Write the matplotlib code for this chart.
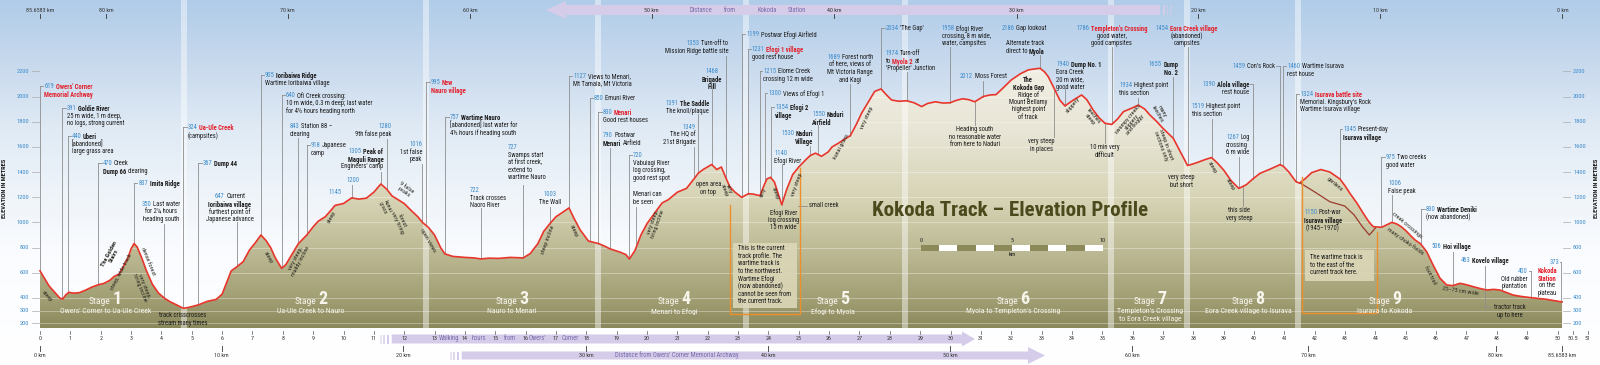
import numpy as np
import matplotlib
matplotlib.use('Agg')
import matplotlib.pyplot as plt
import matplotlib.transforms as mtransforms
from matplotlib.patches import Polygon, Rectangle
from matplotlib.lines import Line2D
from matplotlib import font_manager as fm

# ---------------- data ----------------
hours = [0.0, 0.15, 0.3, 0.5, 0.65, 0.75, 0.85, 0.95, 1.1, 1.3,
         1.5, 1.7, 1.92, 2.1, 2.3, 2.45, 2.6, 2.75, 2.9, 3.0,
         3.1, 3.2, 3.35, 3.5, 3.7, 3.9, 4.1, 4.3, 4.5, 4.72,
         4.9, 5.22, 5.5, 5.8, 6.0, 6.3, 6.5, 6.7, 6.9, 7.1,
         7.28, 7.45, 7.6, 7.75, 7.96, 8.1, 8.3, 8.51, 8.79, 9.0,
         9.17, 9.4, 9.6, 9.72, 10.0, 10.27, 10.5, 10.75, 11.0, 11.23,
         11.42, 11.6, 11.8, 12.0, 12.25, 12.45, 12.6, 12.8, 13.0, 13.2,
         13.34, 13.6, 14.0, 14.3, 14.53, 14.8, 15.1, 15.5, 15.92, 16.15,
         16.4, 16.6, 16.8, 17.0, 17.25, 17.43, 17.6, 17.8, 18.07, 18.4,
         18.6, 18.78, 19.1, 19.3, 19.42, 19.6, 19.8, 20.0, 20.3, 20.5,
         20.7, 21.0, 21.3, 21.56, 21.69, 21.85, 22.13, 22.3, 22.45, 22.6,
         22.73, 22.9, 23.12, 23.34, 23.5, 23.72, 23.85, 23.95, 24.07, 24.2,
         24.44, 24.6, 24.8, 25.0, 25.2, 25.37, 25.55, 25.75, 25.97, 26.1,
         26.3, 26.5, 26.7, 26.9, 27.07, 27.3, 27.5, 27.71, 27.9, 28.06,
         28.3, 28.56, 28.8, 29.05, 29.25, 29.5, 29.75, 29.98, 30.2, 30.4,
         30.6, 30.8, 31.08, 31.3, 31.5, 31.7, 32.0, 32.3, 32.56, 32.8,
         32.95, 33.1, 33.22, 33.44, 33.6, 33.77, 34.05, 34.32, 34.49, 34.7,
         34.9, 35.09, 35.31, 35.5, 35.7, 35.95, 36.19, 36.4, 36.57, 36.8,
         37.0, 37.34, 37.6, 37.81, 38.0, 38.2, 38.4, 38.6, 38.8, 39.0,
         39.25, 39.5, 39.75, 39.96, 40.2, 40.5, 40.86, 40.97, 41.15, 41.38,
         41.5, 41.7, 41.9, 42.2, 42.5, 42.83, 43.0, 43.16, 43.4, 43.6,
         43.8, 43.93, 44.2, 44.35, 44.54, 44.7, 44.85, 45.0, 45.14, 45.3,
         45.49, 45.69, 45.9, 46.13, 46.35, 46.55, 46.79, 47.0, 47.23, 47.45,
         47.67, 47.9, 48.1, 48.3, 48.54, 48.8, 49.13, 49.4, 49.64, 49.9,
         50.15]
elev = [615, 555, 495, 440, 400, 391, 425, 445, 438, 442,
        462, 485, 505, 515, 540, 572, 588, 650, 720, 790,
        832, 805, 720, 620, 510, 440, 398, 368, 345, 318,
        325, 345, 372, 388, 430, 615, 650, 690, 780, 840,
        900, 855, 800, 720, 635, 665, 745, 830, 900, 965,
        1010, 1045, 1100, 1135, 1150, 1195, 1185, 1192, 1240, 1305,
        1265, 1210, 1180, 1150, 1090, 1045, 1000, 960, 900, 800,
        750, 730, 722, 718, 710, 716, 714, 722, 718, 752,
        830, 930, 990, 1045, 1085, 1115, 1030, 940, 852, 832,
        812, 790, 765, 745, 710, 775, 900, 990, 1090, 1155,
        1180, 1240, 1270, 1349, 1391, 1420, 1460, 1420, 1440, 1353,
        1283, 1240, 1199, 1228, 1225, 1212, 1290, 1345, 1358, 1320,
        1140, 1260, 1380, 1440, 1490, 1530, 1550, 1525, 1560, 1600,
        1628, 1660, 1689, 1780, 1867, 1960, 2040, 2060, 2010, 1972,
        1962, 1966, 1950, 1920, 1945, 1958, 1948, 1950, 1970, 1982,
        1975, 1958, 2000, 2012, 2015, 2060, 2131, 2180, 2211, 2220,
        2224, 2195, 2158, 2052, 1972, 1925, 1972, 2012, 1975, 1893,
        1830, 1787, 1778, 1820, 1880, 1905, 1932, 1900, 1853, 1800,
        1747, 1668, 1549, 1452, 1465, 1482, 1500, 1515, 1470, 1416,
        1330, 1270, 1300, 1345, 1390, 1420, 1459, 1445, 1400, 1324,
        1312, 1350, 1395, 1420, 1400, 1345, 1290, 1231, 1150, 1072,
        1000, 966, 961, 978, 1000, 988, 966, 935, 900, 862,
        830, 767, 662, 556, 503, 498, 516, 505, 489, 475,
        463, 468, 463, 445, 423, 412, 402, 395, 389, 378,
        368]

# wartime track near Isurava
alt_hours = [41.52, 42.0, 42.5, 42.99, 43.3, 43.57, 43.8, 44.0]
alt_elev = [1313, 1242, 1164, 1130, 1059, 966, 900, 955]

elev_ticks = [200, 300, 400, 600, 800, 1000, 1200, 1400, 1600, 1800, 2000, 2200]
hour_ticks = list(range(0, 51)) + [50.5, 51]
hour_labels = [str(h) for h in range(0, 51)] + ['50.5', '51']

km_bottom_labels = ['0 km', '10 km', '20 km', '30 km', '40 km', '50 km',
                    '60 km', '70 km', '80 km', '85.6583 km']
km_bottom_hours = [0, 5.99, 11.97, 17.99, 23.99, 29.98, 35.99, 41.79, 47.96, 50.16]
km_top_labels = ['85.6583 km', '80 km', '70 km', '60 km', '50 km', '40 km',
                 '30 km', '20 km', '10 km', '0 km']
km_top_hours = [0, 2.18, 8.16, 14.17, 20.15, 26.17, 32.18, 38.17, 44.15, 50.16]

stage_bounds = [4.73, 12.72, 18.4, 23.26, 28.5, 35.3, 37.8, 41.44]
stage_nums = ['1', '2', '3', '4', '5', '6', '7', '8', '9']
stage_names = ["Owers' Corner to Ua-Ule Creek", "Ua-Ule Creek to Nauro",
               "Nauro to Menari", "Menari to Efogi", "Efogi to Myola",
               "Myola to Templeton's Crossing",
               "Templeton's Crossing\nto Eora Creek village",
               "Eora Creek village to Isurava", "Isurava to Kokoda"]
stage_centres = [2.15, 8.93, 15.55, 20.89, 26.13, 32.06, 36.57, 39.8, 44.32]

# ---------------- layout helpers ----------------
W, H = 1600, 365
X0, SX = 40.0, 30.35
Y0, SY = 348.3, 0.1259


def hx(px):
    return (px - X0) / SX


def ey(py):
    return (Y0 - py) / SY


def pxh(h):
    return X0 + SX * h


def pye(e):
    return Y0 - SY * e


def have(name):
    try:
        fm.findfont(fm.FontProperties(family=name), fallback_to_default=False)
        return True
    except Exception:
        return False


NARROW = next(f for f in ['Liberation Sans Narrow', 'Roboto Condensed', 'Roboto', 'DejaVu Sans'] if have(f))
plt.rcParams['font.family'] = [NARROW, 'DejaVu Sans']

BLUE = '#3d8ccc'
RED = '#e3202b'
INK = '#1c1c1c'
LEAD = '#8e8e8e'
LAV = '#d4cce8'
LAVTXT = '#7a6ead'

fig = plt.figure(figsize=(W / 100, H / 100), dpi=100)
ax = fig.add_axes([0, 0, 1, 1])
ax.axis('off')
PX = mtransforms.Affine2D().scale(1 / W, -1 / H).translate(0, 1) + fig.transFigure
R = fig.canvas.get_renderer()

# sky gradient
sky_stops = [0, 60, 130, 200, 260, 365]
sky_cols = np.array([[0.69, 0.80, 0.91], [0.78, 0.85, 0.93], [0.88, 0.92, 0.96],
                     [0.94, 0.96, 0.98], [0.985, 0.99, 1.0], [1, 1, 1]])
rows = np.arange(H)
sky = np.stack([np.interp(rows, sky_stops, sky_cols[:, k]) for k in range(3)], axis=-1)[:, None, :]
ax.imshow(sky, extent=[hx(0), hx(W), ey(H), ey(0)], origin='upper', aspect='auto', zorder=0)

# ground
BASE = ey(328)
gx = np.concatenate([[hours[0]], hours, [hours[-1]]])
gy = np.concatenate([[BASE], elev, [BASE]])
ground = Polygon(np.column_stack([gx, gy]), closed=True, facecolor='none', edgecolor='none')
ax.add_patch(ground)
g_stops = [60, 130, 200, 260, 300, 328]
g_cols = np.array([[0.95, 0.94, 0.90], [0.91, 0.90, 0.84], [0.84, 0.83, 0.71],
                   [0.72, 0.71, 0.56], [0.63, 0.62, 0.45], [0.54, 0.535, 0.36]])
grows = np.arange(60, 329)
gimg = np.stack([np.interp(grows, g_stops, g_cols[:, k]) for k in range(3)], axis=-1)[:, None, :]
im = ax.imshow(gimg, extent=[hours[0], hours[-1], BASE, ey(60)], origin='upper', aspect='auto', zorder=1)
im.set_clip_path(ground)
for v in elev_ticks:
    ln, = ax.plot([hours[0], hours[-1]], [v, v], color='white', alpha=0.4, lw=0.6, zorder=2)
    ln.set_clip_path(ground)

# stage separator stripes
for b in stage_bounds:
    ax.add_patch(Rectangle((b - 0.1, BASE), 0.2, ey(0) - BASE, facecolor='white', alpha=0.45,
                           edgecolor='none', zorder=3))

# profile
ax.plot(hours, elev, color='#e8362c', lw=1.2, zorder=8, solid_joinstyle='round')
ax.plot(alt_hours, alt_elev, color='#9a3a2c', lw=0.9, zorder=8)
ax.set_xlim(hx(0), hx(W))
ax.set_ylim(ey(H), ey(0))


def prof(h):
    return np.interp(h, hours, elev)


STY = {'n': (BLUE, 'normal'), 'b': (INK, 'bold'), 'r': (RED, 'bold'), 't': (INK, 'normal')}
FS = 4.7
LH = 7.6
GAP = 1.6


def rich(x, y, text, ha='left', fs=FS, lh=LH, color=None):
    for i, line in enumerate(text.split('\n')):
        objs = []
        for tok in line.split('|'):
            st, txt = tok.split(':', 1)
            c, wgt = STY[st]
            objs.append(fig.text(0, 0, txt, transform=PX, fontsize=fs, color=color or c,
                                 fontweight=wgt, va='top', ha='left', zorder=5))
        ws = [o.get_window_extent(R).width for o in objs]
        tot = sum(ws) + GAP * (len(ws) - 1)
        x0 = {'left': x, 'center': x - tot / 2, 'right': x - tot}[ha]
        for o, w_ in zip(objs, ws):
            o.set_position((x0, y + i * lh))
            x0 += w_ + GAP


def vline(h, y_px):
    ax.plot([h, h], [ey(y_px), prof(h)], color=LEAD, lw=0.6, zorder=6)


# ---------------- callouts ----------------
callouts = [
    (0.0, 44.3, 83, 'left', 'tick', "n:619|r:Owers' Corner\nr:Memorial Archway"),
    (0.73, 66.7, 105, 'left', 'tick', "n:391|b:Goldie River\nt:25 m wide, 1 m deep,\nt:no logs, strong current"),
    (0.91, 71.7, 133, 'left', 'tick', "n:440|b:Uberi\nt:[abandoned]\nt:large grass area"),
    (1.92, 102.7, 160, 'left', 'tick', "n:470|t:Creek\nb:Dump 66|t:clearing"),
    (3.1, 138.3, 180, 'left', 'tick', "n:837|b:Imita Ridge"),
    (4.1, 161, 201, 'center', 224, "n:350|t:Last water\nt:for 2¼ hours\nt:heading south"),
    (4.72, 187.7, 124, 'left', 'tick', "n:324|r:Ua-Ule Creek\nt:(campsites)"),
    (5.22, 202.7, 160, 'left', 'tick', "n:367|b:Dump 44"),
    (6.5, 230, 193, 'center', 222, "n:647|t:Current\nb:Ioribaiwa village\nt:furthest point of\nt:Japanese advance"),
    (7.28, 265, 72, 'left', 'tick', "n:905|b:Ioribaiwa Ridge\nt:Wartime Ioribaiwa village"),
    (7.96, 285.7, 92, 'left', 'tick', "n:640|t:Ofi Creek crossing:\nt:10 m wide, 0.3 m deep; last water\nt:for 4½ hours heading north"),
    (8.51, 290, 123, 'left', 138, "n:843|t:Station 88 –\nt:clearing"),
    (8.79, 310.7, 142, 'left', 'tick', "n:918|t:Japanese\nt:camp"),
    (11.42, 391, 123, 'right', 139, "n:1280\nt:9th false peak"),
    (12.6, 422.3, 141, 'right', 164, "n:1016\nt:1st false\nt:peak"),
    (11.23, 383.3, 148, 'right', 172, "n:1305|b:Peak of\nb:Maguli Range\nt:Engineers' camp"),
    (10.27, 353.3, 177, 'center', 185, "n:1200"),
    (None, 335, 189, 'center', None, "n:1145"),
    (12.72, 430.7, 79, 'left', 'tick', "n:995|r:New\nr:Nauro village"),
    (13.34, 450, 114, 'left', 'tick', "n:757|b:Wartime Nauro\nt:[abandoned] last water for\nt:4½ hours if heading south"),
    (15.92, 508, 144, 'left', 185, "n:727\nt:Swamps start\nt:at first creek,\nt:extend to\nt:wartime Nauro"),
    (14.53, 470, 187, 'left', 208, "n:722\nt:Track crosses\nt:Naoro River"),
    (16.8, 550, 191, 'center', 207, "n:1003\nt:The Wall"),
    (17.43, 573.3, 73, 'left', 'tick', "n:1127|t:Views to Menari,\nt:Mt Tamala, Mt Victoria"),
    (18.12, 594, 95, 'left', 'tick', "n:850|t:Emuni River"),
    (18.4, 602.7, 109, 'left', 'tick', "n:830|r:Menari\nt:Good rest houses"),
    (18.78, 602.7, 132, 'left', 148, "n:790|t:Postwar\nb:Menari|t:Airfield"),
    (19.42, 632.7, 152, 'left', 'tick', "n:720\nt:Vabuiagi River\nt:log crossing,\nt:good rest spot"),
    (19.64, 633.3, 191, 'left', 207, "t:Menari can\nt:be seen"),
    (22.6, 728.3, 40, 'right', 56, "n:1353|t:Turn-off to\nt:Mission Ridge battle site"),
    (22.13, 711.7, 68, 'center', 89, "n:1468\nb:Brigade\nb:Hill"),
    (21.69, 709, 100, 'right', 114, "n:1391|b:The Saddle\nt:The knoll/plaque"),
    (21.56, 695.7, 124, 'right', 147, "n:1349\nt:The HQ of\nt:21st Brigade"),
    (23.12, 746, 31, 'left', 'tick', "n:1199|t:Postwar Efogi Airfield"),
    (23.34, 751.7, 46, 'left', 'tick', "n:1231|r:Efogi 1 village\nt:good rest house"),
    (23.72, 763.3, 68, 'left', 'tick', "n:1215|t:Elome Creek\nt:crossing 12 m wide"),
    (23.9, 768.3, 90, 'left', 'tick', "n:1300|t:Views of Efogi 1"),
    (24.07, 775, 104, 'left', 'tick', "n:1354|b:Efogi 2\nb:village"),
    (25.37, 813.3, 130, 'right', 146, "n:1530|b:Naduri\nb:Village"),
    (25.63, 812, 111, 'left', 125, "n:1550|b:Naduri\nb:Airfield"),
    (24.44, 774.3, 150, 'left', 164, "n:1140\nt:Efogi River"),
    (None, 783.3, 209, 'center', None, "t:Efogi River\nt:log crossing\nt:15 m wide"),
    (26.7, 850, 54, 'center', 84, "n:1689|t:Forest north\nt:of here, views of\nt:Mt Victoria Range\nt:and Kagi"),
    (27.71, 885.7, 25, 'left', 'tick', "n:2034|t:'The Gap'"),
    (28.56, 885.7, 50, 'left', 72, "n:1974|t:Turn-off\nt:to|r:Myola 2|t:at\nt:'Propeller' Junction"),
    (29.98, 941.7, 25, 'left', 47, "n:1958|t:Efogi River\nt:crossing, 8 m wide,\nt:water, campsites"),
    (31.08, 960, 73, 'left', 81, "n:2012|t:Moss Forest"),
    (None, 1001.7, 25, 'left', None, "n:2186|t:Gap lookout"),
    (32.95, 1025, 40, 'center', 55, "t:Alternate track\nt:direct to|b:Myola"),
    (None, 1028.3, 76, 'center', None, "b:The\nb:Kokoda Gap\nt:Ridge of\nt:Mount Bellamy\nt:highest point\nt:of track"),
    (33.77, 1056, 61, 'left', 88, "n:1940|b:Dump No. 1\nt:Eora Creek\nt:20 m wide,\nt:good water"),
    (35.31, 1111.7, 25, 'center', 47, "n:1786|r:Templeton's Crossing\nt:good water,\nt:good campsites"),
    (36.19, 1119.3, 82, 'left', 98, "n:1934|t:Highest point\nt:this section"),
    (37.34, 1178.3, 61, 'right', 77, "n:1655|b:Dump\nb:No. 2"),
    (37.81, 1186.7, 25, 'center', 47, "n:1454|r:Eora Creek village\nt:(abandoned)\nt:campsites"),
    (38.6, 1191.7, 103, 'left', 119, "n:1519|t:Highest point\nt:this section"),
    (39.96, 1249, 81, 'right', 'tickR', "n:1390|b:Alola village\nt:rest house"),
    (39.5, 1226, 134, 'left', 157, "n:1267|t:Log\nt:crossing\nt:6 m wide"),
    (40.86, 1275, 63, 'right', 'tickR', "n:1459|t:Con's Rock"),
    (40.97, 1287.3, 63, 'left', 'tick', "n:1460|t:Wartime Isurava\nt:rest house"),
    (41.38, 1300, 91, 'left', 'tick', "n:1324|r:Isurava battle site\nt:Memorial. Kingsbury's Rock\nt:Wartime Isurava village"),
    (42.83, 1343.3, 126, 'left', 'tick', "n:1345|t:Present-day\nb:Isurava village"),
    (44.2, 1386, 154, 'left', 'tick', "n:975|t:Two creeks\nt:good water"),
    (44.54, 1388.3, 180, 'left', 195, "n:1006\nt:False peak"),
    (45.49, 1425.7, 206, 'left', 'tick', "n:830|b:Wartime Deniki\nt:(now abandoned)"),
    (46.55, 1431.7, 243, 'left', 252, "n:506|b:Hoi village"),
    (47.6, 1460.7, 257, 'left', 266, "n:463|b:Kovelo village"),
    (49.13, 1527.7, 268, 'right', 'tickR', "n:400\nt:Old rubber\nt:plantation"),
    (50.12, 1559, 259, 'right', 'tickR', "n:373"),
    (None, 1547, 267, 'center', None, "r:Kokoda\nr:Station\nt:on the\nt:plateau"),
    (None, 1323, 209, 'center', None, "n:1150|t:Post-war\nb:Isurava village\nt:(1945–1970)"),
    (None, 1510, 304, 'center', None, "t:tractor track\nt:up to here"),
    (None, 975, 126, 'center', None, "t:Heading south\nt:no reasonable water\nt:from here to Naduri"),
    (None, 1041.7, 138, 'center', None, "t:very steep\nt:in places"),
    (None, 1105, 144, 'center', None, "t:10 min very\nt:difficult"),
    (None, 1181.7, 174, 'center', None, "t:very steep\nt:but short"),
    (None, 1239.3, 207, 'center', None, "t:this side\nt:very steep"),
    (None, 708.3, 181, 'center', None, "t:open area\nt:on top"),
    (None, 182.7, 312, 'center', None, "t:track crisscrosses\nt:stream many times"),
]

for h, tx, ty, ha, lead, text in callouts:
    rich(tx, ty, text, ha=ha)
    if h is None or lead is None:
        continue
    if lead == 'tick':
        vline(h, ty + 2.5)
        ax.plot([h, hx(tx - 1)], [ey(ty + 2.5)] * 2, color=LEAD, lw=0.6, zorder=6)
    elif lead == 'tickR':
        vline(h, ty + 2.5)
        ax.plot([h, hx(tx + 1)], [ey(ty + 2.5)] * 2, color=LEAD, lw=0.6, zorder=6)
    else:
        vline(h, lead)

# leaders hanging below the profile
for h, yb in [(30.8, 125), (33.42, 137), (35.09, 143), (39.63, 206), (47.6, 307)]:
    ax.plot([h, h], [prof(h), ey(yb)], color=LEAD, lw=0.6, zorder=6)
ax.plot([47.6, hx(1490)], [ey(307)] * 2, color=LEAD, lw=0.6, zorder=6)
ax.plot([hx(798), hx(807)], [ey(205.7)] * 2, color=LEAD, lw=0.6, zorder=6)
fig.text(809, 205.7, 'small creek', transform=PX, fontsize=FS, color=INK, va='center', ha='left')

# along-track notes
notes = [
    (46.7, 296, -48, "steep", 'normal'), (111.7, 255, 62, "The Golden\nStairs", 'bold'),
    (121.7, 272, 62, "steep, wide track", 'normal'), (148.3, 261, -68, "dense forest", 'normal'),
    (142, 287, -68, "very steep,\ntiring incline", 'normal'), (268.3, 257, -60, "steep", 'normal'),
    (298, 260, 62, "very steep,\nmuddy incline", 'normal'), (331.7, 217, 62, "steep", 'normal'),
    (385, 207, -65, "kunai\ngrass", 'normal'), (405, 190, -35, "9 false\npeaks", 'normal'),
    (400, 222, -65, "forest\nvery tiring", 'normal'), (428.3, 240, -60, "open views", 'normal'),
    (548.3, 240, 70, "steep incline", 'normal'), (573.3, 231, -65, "steep", 'normal'),
    (655, 223, 70, "very steep,\ntiring incline", 'normal'), (727, 190, -70, "very\nsteep", 'normal'),
    (763, 193, 70, "very", 'normal'), (775, 193, -70, "steep", 'normal'),
    (797, 185, 70, "very steep", 'normal'), (841.7, 147, 62, "kunai grass", 'normal'),
    (866.7, 118, 65, "very steep", 'normal'), (1073.3, 105, 50, "slippery", 'normal'),
    (1091.7, 118, -50, "leeches\nsteep", 'normal'), (1131.7, 122, 50, "swampy creeks\nslippery\nand boggy", 'normal'),
    (1160, 113, -60, "many\nleeches", 'normal'), (1163.3, 145, -70, "steep in short\nsections only", 'normal'),
    (1211.7, 167, -60, "steep", 'normal'), (1230, 184, -60, "steep", 'normal'),
    (1335, 184, -40, "gardens", 'normal'), (1406.7, 225, -40, "creek crossings", 'normal'),
    (1405, 241, -35, "many choko fields", 'normal'), (1430, 275, -62, "foot trail", 'normal'),
    (1460, 291, -8, "25–75 cm wide", 'normal'),
]
for x, y, rot, txt, wgt in notes:
    fig.text(x, y, txt, transform=PX, fontsize=4.4, color='#2a2a22', fontweight=wgt,
             rotation=rot, rotation_mode='anchor', ha='center', va='center', linespacing=1.0)

# orange boxes
ORANGE = '#ec8f2c'
for pts in [[(730, 205), (730, 314), (800, 314), (800, 168)],
            [(1301.7, 177), (1301.7, 313), (1376.7, 313), (1376.7, 232)]]:
    xs, ys = zip(*pts)
    fig.add_artist(Line2D(xs, ys, transform=PX, color=ORANGE, lw=1.0))
fig.add_artist(Rectangle((733, 243), 64, 65, transform=PX, facecolor='#dcd7b8', alpha=0.9, edgecolor='none'))
fig.add_artist(Rectangle((1305, 250), 69, 31, transform=PX, facecolor='#dcd7b8', alpha=0.9, edgecolor='none'))
box1 = ["This is the current", "track profile. The", "wartime track is", "to the northwest.",
        "Wartime Efogi", "(now abandoned)", "cannot be seen from", "the current track."]
box2 = ["The wartime track is", "to the east of the", "current track here."]
for i, s in enumerate(box1):
    fig.text(738, 245 + i * LH, s, transform=PX, fontsize=4.8, color=INK, va='top')
for i, s in enumerate(box2):
    fig.text(1310, 254 + i * LH, s, transform=PX, fontsize=4.8, color=INK, va='top')

# stage labels
SCOL = '#f7f5ec'
for c, n, name in zip(stage_centres, stage_nums, stage_names):
    cx = pxh(c)
    t1 = fig.text(0, 0, 'Stage', transform=PX, fontsize=6.8, color=SCOL, va='baseline')
    t2 = fig.text(0, 0, n, transform=PX, fontsize=13, color=SCOL, fontweight='bold', va='baseline')
    w1 = t1.get_window_extent(R).width
    w2 = t2.get_window_extent(R).width
    x0 = cx - (w1 + 2 + w2) / 2
    t1.set_position((x0, 304))
    t2.set_position((x0 + w1 + 2, 304))
    fig.text(cx, 308, name, transform=PX, fontsize=5.6, color=SCOL, ha='center', va='top',
             linespacing=1.35)

# title
tt = fig.text(871.7, 210.5, 'Kokoda Track – Elevation Profile', transform=PX, fontsize=14,
              fontweight='bold', color='#4b4a1c', va='center', ha='left')
tw = tt.get_window_extent(R).width
tt.set_fontsize(14 * 277 / tw)

# scale bar
seg = (1102.7 - 921) / 10
for i in range(10):
    fig.add_artist(Rectangle((921 + i * seg, 245), seg, 5.7, transform=PX,
                             facecolor='#8c8a5a' if i % 2 == 0 else 'white', edgecolor='none'))
for lab, x in [('0', 921), ('5', 921 + 5 * seg), ('10', 1102.7)]:
    fig.text(x, 241, lab, transform=PX, fontsize=4.4, color=INK, ha='center', va='center')
fig.text(921 + 5 * seg, 255, 'km', transform=PX, fontsize=4.4, color=INK, ha='center', va='center')

# elevation axes
for v in elev_ticks:
    y = pye(v)
    fig.add_artist(Line2D([31.7, 39.3], [y, y], transform=PX, color='#aaaaaa', lw=0.5))
    fig.add_artist(Line2D([1563, 1570], [y, y], transform=PX, color='#aaaaaa', lw=0.5))
    fig.text(29.5, y, str(v), transform=PX, fontsize=4.6, color=BLUE, ha='right', va='center')
    fig.text(1573, y, str(v), transform=PX, fontsize=4.6, color=BLUE, ha='left', va='center')
for x in (5, 1596):
    fig.text(x, 188, 'ELEVATION IN METRES', transform=PX, fontsize=4.6, fontweight='bold',
             color=INK, rotation=90, ha='center', va='center')

# distance arrows
def band(x_from, x_to, yc, hb, hh, head_len):
    d = 1 if x_to > x_from else -1
    xb = x_to - d * head_len
    pts = [(x_from, yc - hb), (xb, yc - hb), (xb, yc - hh), (x_to, yc), (xb, yc + hh),
           (xb, yc + hb), (x_from, yc + hb)]
    fig.add_artist(Polygon(pts, closed=True, transform=PX, facecolor=LAV, edgecolor='none'))
    for k in range(3):
        xs = x_from - d * (3 + k * 3.5)
        fig.add_artist(Rectangle((min(xs, xs - d * 1.8), yc - hb), 1.8, 2 * hb, transform=PX,
                                 facecolor=LAV, edgecolor='none', alpha=1 - 0.25 * k))


band(1160, 546, 10, 5, 9, 20)
band(391.7, 975, 339, 4.5, 7.5, 13)
band(461.7, 1045, 355.5, 4, 8.5, 17)
for w_, x in [('Distance', 701), ('from', 729.5), ('Kokoda', 766.7), ('Station', 797)]:
    fig.text(x, 10, w_, transform=PX, fontsize=4.8, color=LAVTXT, ha='center', va='center')
for w_, x in [('Walking', 449), ('hours', 479), ('from', 510), ("Owers'", 537), ('Corner', 570)]:
    fig.text(x, 339, w_, transform=PX, fontsize=4.8, color=LAVTXT, ha='center', va='center')
fig.text(676.7, 355.5, "Distance from Owers' Corner Memorial Archway", transform=PX,
         fontsize=4.8, color=LAVTXT, ha='center', va='center')

# hour ticks
for h, lab in zip(hour_ticks, hour_labels):
    x = pxh(h)
    fig.add_artist(Line2D([x, x], [331.2, 333.8], transform=PX, color='#555555', lw=0.5))
    fig.text(x, 339, lab, transform=PX, fontsize=4.3, color='#333333', ha='center', va='center')

# km ticks
for h, lab in zip(km_bottom_hours, km_bottom_labels):
    x = pxh(h)
    fig.add_artist(Line2D([x, x], [346, 350.5], transform=PX, color='#333333', lw=0.6))
    fig.text(x, 355.5, lab, transform=PX, fontsize=4.3, color='#333333', ha='center', va='center')
for h, lab in zip(km_top_hours, km_top_labels):
    x = pxh(h)
    fig.add_artist(Line2D([x, x], [13.5, 17.5], transform=PX, color='#333333', lw=0.6))
    fig.text(x, 10, lab, transform=PX, fontsize=4.3, color='#333333', ha='center', va='center')

fig.savefig('out.png', dpi=100)
